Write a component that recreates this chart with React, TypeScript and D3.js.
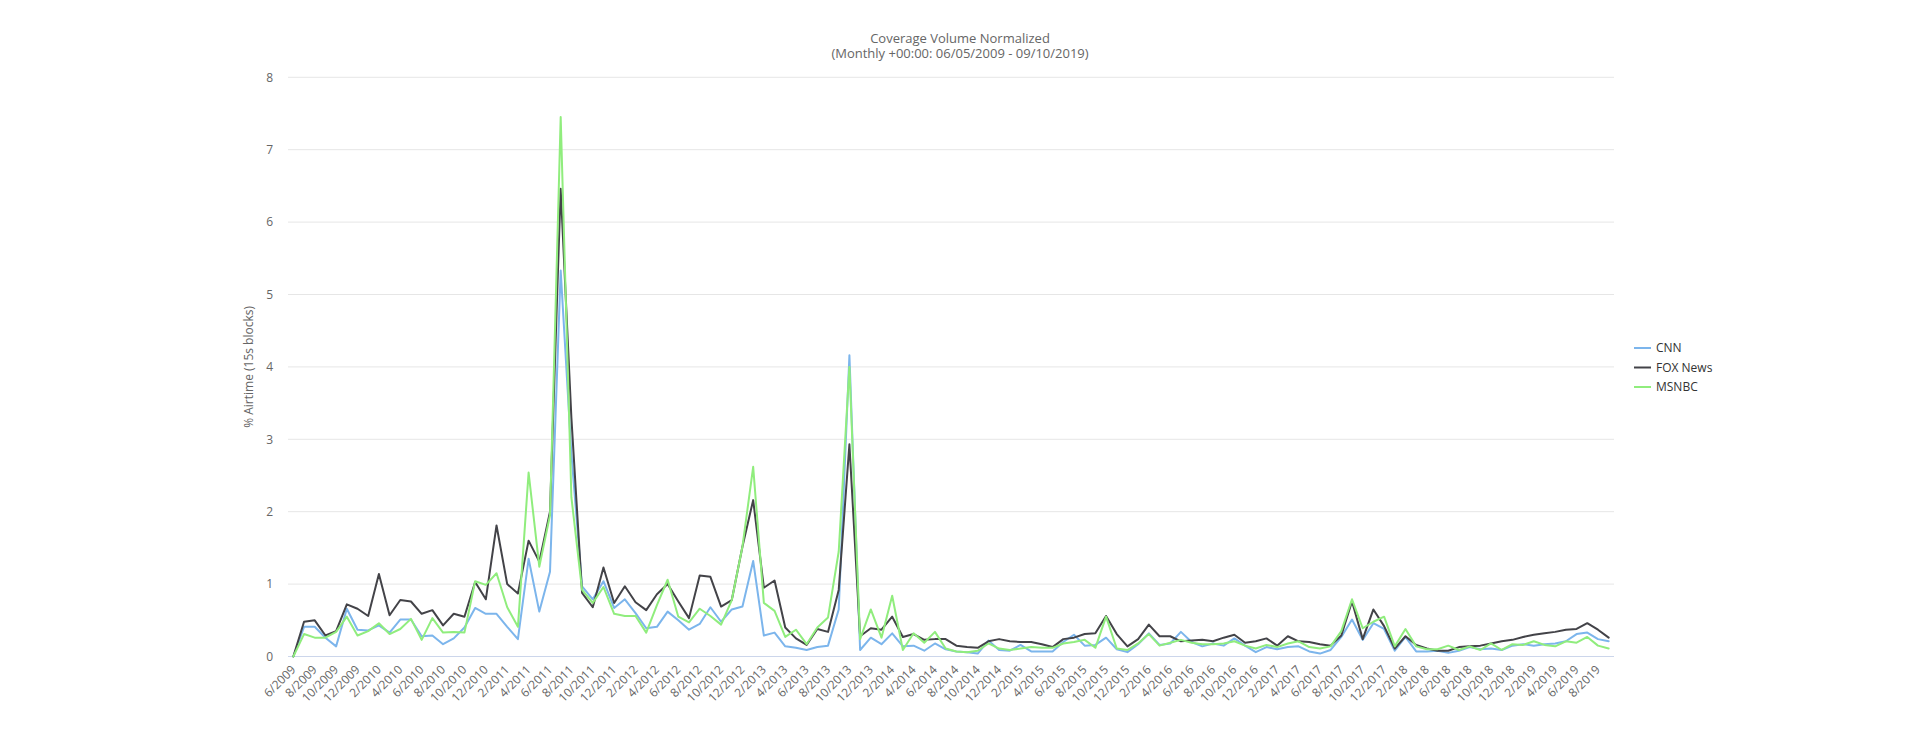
import React from 'react';
import * as d3 from 'd3';

// monthly buckets, 6/2009 .. 9/2019
const months: string[] = d3
  .timeMonth.range(new Date(2009, 5, 1), new Date(2019, 9, 1))
  .map(d => `${d.getMonth() + 1}/${d.getFullYear()}`);

const cnn: number[] = [
  0, 0.41, 0.41, 0.26, 0.14, 0.66, 0.37, 0.36, 0.43, 0.33, 0.51, 0.51, 0.28, 0.29, 0.17, 0.25,
  0.40, 0.67, 0.59, 0.59, 0.41, 0.24, 1.35, 0.62, 1.17, 5.33, 2.8, 0.97, 0.79, 1.04, 0.67, 0.79,
  0.60, 0.39, 0.41, 0.62, 0.50, 0.37, 0.45, 0.68, 0.48, 0.65, 0.69, 1.32, 0.29, 0.33, 0.14, 0.12,
  0.09, 0.13, 0.15, 0.65, 4.16, 0.09, 0.26, 0.17, 0.32, 0.14, 0.15, 0.08, 0.18, 0.10, 0.07, 0.06,
  0.04, 0.22, 0.09, 0.08, 0.16, 0.07, 0.07, 0.07, 0.20, 0.30, 0.15, 0.16, 0.26, 0.10, 0.06, 0.17,
  0.32, 0.16, 0.18, 0.34, 0.20, 0.14, 0.18, 0.15, 0.25, 0.15, 0.06, 0.13, 0.10, 0.13, 0.14, 0.07,
  0.04, 0.09, 0.27, 0.51, 0.23, 0.46, 0.38, 0.08, 0.27, 0.07, 0.07, 0.08, 0.05, 0.08, 0.13, 0.10,
  0.11, 0.09, 0.15, 0.17, 0.15, 0.17, 0.18, 0.21, 0.31, 0.33, 0.24, 0.21,
];

const fox: number[] = [
  0, 0.48, 0.50, 0.29, 0.35, 0.72, 0.66, 0.56, 1.14, 0.57, 0.78, 0.76, 0.59, 0.64, 0.43, 0.59,
  0.55, 1.03, 0.79, 1.81, 1.00, 0.87, 1.60, 1.31, 2.0, 6.46, 3.3, 0.88, 0.68, 1.23, 0.74, 0.97,
  0.75, 0.64, 0.86, 1.00, 0.76, 0.53, 1.12, 1.10, 0.69, 0.78, 1.52, 2.16, 0.95, 1.05, 0.40, 0.25,
  0.16, 0.38, 0.34, 0.92, 2.93, 0.28, 0.39, 0.37, 0.55, 0.27, 0.31, 0.23, 0.24, 0.24, 0.15, 0.13,
  0.12, 0.21, 0.24, 0.21, 0.20, 0.20, 0.17, 0.13, 0.24, 0.26, 0.31, 0.32, 0.56, 0.31, 0.14, 0.24,
  0.44, 0.28, 0.28, 0.21, 0.22, 0.23, 0.21, 0.26, 0.30, 0.19, 0.21, 0.25, 0.15, 0.28, 0.21, 0.20,
  0.17, 0.15, 0.29, 0.76, 0.24, 0.65, 0.42, 0.11, 0.28, 0.16, 0.11, 0.08, 0.08, 0.13, 0.14, 0.15,
  0.18, 0.21, 0.23, 0.27, 0.30, 0.32, 0.34, 0.37, 0.38, 0.46, 0.37, 0.26,
];

const msnbc: number[] = [
  0, 0.31, 0.26, 0.26, 0.34, 0.55, 0.29, 0.35, 0.46, 0.31, 0.38, 0.52, 0.23, 0.53, 0.33, 0.34,
  0.33, 1.04, 0.99, 1.15, 0.68, 0.41, 2.54, 1.24, 1.95, 7.45, 2.2, 0.92, 0.74, 0.96, 0.59, 0.56,
  0.56, 0.33, 0.71, 1.06, 0.55, 0.47, 0.66, 0.56, 0.44, 0.78, 1.52, 2.62, 0.74, 0.63, 0.27, 0.37,
  0.17, 0.40, 0.54, 1.45, 4.0, 0.24, 0.65, 0.26, 0.84, 0.09, 0.32, 0.19, 0.34, 0.11, 0.07, 0.06,
  0.08, 0.18, 0.11, 0.09, 0.11, 0.13, 0.12, 0.12, 0.18, 0.20, 0.23, 0.12, 0.55, 0.11, 0.09, 0.18,
  0.31, 0.15, 0.19, 0.23, 0.19, 0.17, 0.17, 0.18, 0.21, 0.15, 0.11, 0.16, 0.13, 0.18, 0.21, 0.13,
  0.11, 0.14, 0.35, 0.79, 0.39, 0.48, 0.55, 0.14, 0.38, 0.14, 0.10, 0.10, 0.15, 0.09, 0.14, 0.09,
  0.18, 0.09, 0.17, 0.16, 0.21, 0.16, 0.14, 0.21, 0.19, 0.27, 0.15, 0.11,
];

const seriesNames = ['CNN', 'FOX News', 'MSNBC'];
const seriesColors = ['#7cb5ec', '#434348', '#90ed7d'];
const seriesValues = [cnn, fox, msnbc];
const yTicks = [0, 1, 2, 3, 4, 5, 6, 7, 8];

const W = 1920;
const H = 740;
const FONT = '"Open Sans", "Noto Sans", sans-serif';

const App: React.FC = () => {
  const x = d3.scalePoint<string>().domain(months).range([288, 1614]).padding(0.5);
  const y = d3.scaleLinear().domain([0, 8]).range([656.5, 77.3]);

  const line = d3
    .line<number>()
    .x((_, i) => x(months[i]) as number)
    .y(d => y(d));

  return (
    <svg
      width={W}
      height={H}
      style={{ position: 'absolute', left: 0, top: 0, background: '#fff', fontFamily: FONT }}
    >
      {/* title */}
      <text x={960} y={43} textAnchor="middle" fontSize={13} fill="#666">
        Coverage Volume Normalized
      </text>
      <text x={960} y={58} textAnchor="middle" fontSize={13} fill="#666">
        (Monthly +00:00: 06/05/2009 - 09/10/2019)
      </text>

      {/* grid + y labels */}
      {yTicks.map(t => (
        <g key={t}>
          {t > 0 && (
            <line x1={288} x2={1614} y1={y(t)} y2={y(t)} stroke="#e6e6e6" strokeWidth={1} />
          )}
          <text x={273} y={y(t)} dy="0.35em" textAnchor="end" fontSize={12} fill="#666">
            {t}
          </text>
        </g>
      ))}

      <text
        transform={`translate(253, ${(y(0) + y(8)) / 2}) rotate(-90)`}
        textAnchor="middle"
        fontSize={12}
        fill="#666"
      >
        % Airtime (15s blocks)
      </text>

      {/* x axis */}
      <line x1={288} x2={1614} y1={y(0)} y2={y(0)} stroke="#ccd6eb" strokeWidth={1} />
      {months.map((m, i) =>
        i % 2 === 0 ? (
          <text
            key={m}
            transform={`translate(${(x(m) as number) + 3}, ${y(0) + 14}) rotate(-45)`}
            textAnchor="end"
            fontSize={12}
            fill="#666"
          >
            {m}
          </text>
        ) : null
      )}

      {/* series */}
      {seriesValues.map((vals, k) => (
        <path
          key={seriesNames[k]}
          d={line(vals) || ''}
          fill="none"
          stroke={seriesColors[k]}
          strokeWidth={2}
          strokeLinejoin="round"
          strokeLinecap="round"
        />
      ))}

      {/* legend */}
      {seriesNames.map((name, k) => (
        <g key={name} transform={`translate(1634, ${348 + k * 19.5})`}>
          <line x1={0} x2={17} y1={0} y2={0} stroke={seriesColors[k]} strokeWidth={2} />
          <text x={22} y={0} dy="0.35em" fontSize={12} fill="#333">
            {name}
          </text>
        </g>
      ))}
    </svg>
  );
};

export default App;
